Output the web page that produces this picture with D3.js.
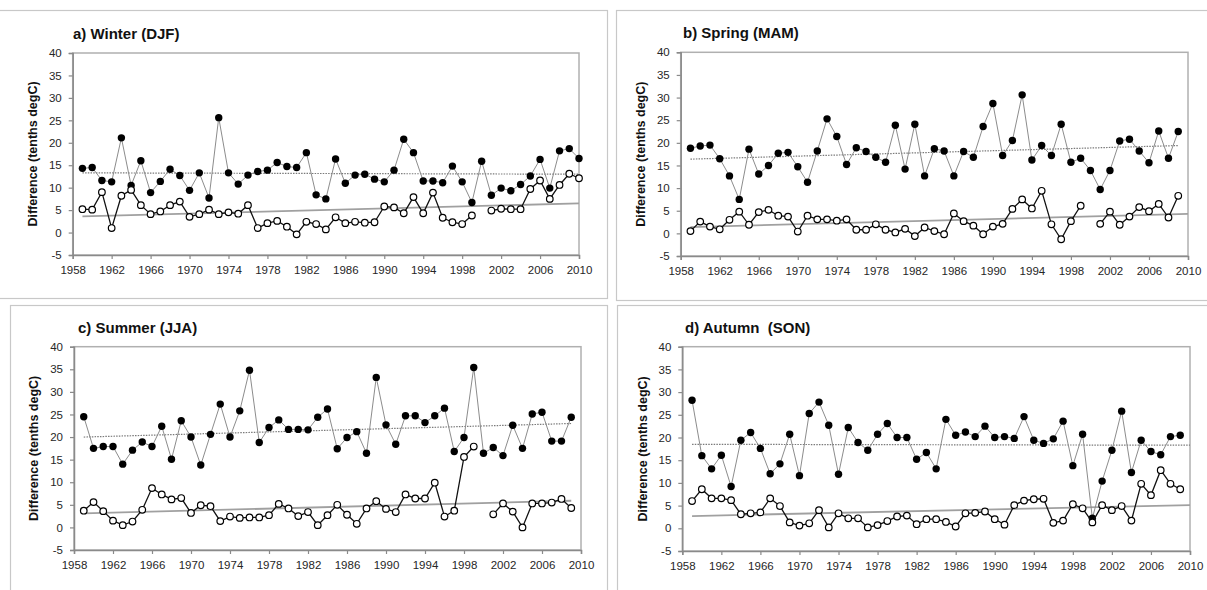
<!DOCTYPE html>
<html>
<head>
<meta charset="utf-8">
<script src="https://cdn.jsdelivr.net/npm/d3@7"></script>
<style>
  html, body { margin: 0; padding: 0; background: #fff; }
  svg { display: block; }
  text { font-family: "Liberation Sans", Arial, sans-serif; }
</style>
</head>
<body>
<svg id="chart" width="1207" height="590"></svg>
<script>
// ---------------- DATA ----------------
const panelTitles = ["a) Winter (DJF)", "b) Spring (MAM)", "c) Summer (JJA)", "d) Autumn  (SON)"];
const yAxisLabel = "Difference (tenths degC)";
const yTicks = [-5, 0, 5, 10, 15, 20, 25, 30, 35, 40];
const xTicks = [1958, 1962, 1966, 1970, 1974, 1978, 1982, 1986, 1990, 1994, 1998, 2002, 2006, 2010];

const winterYears = d3.range(1959, 2011);
const springYears = d3.range(1959, 2010);
const summerYears = d3.range(1959, 2010);
const autumnYears = d3.range(1959, 2010);

const winterFilled = [14.3,14.5,11.6,11.3,21.1,10.5,16.0,8.9,11.4,14.1,
  12.7,9.4,13.3,7.7,25.6,13.3,10.8,12.8,13.6,13.9,
  15.6,14.7,14.5,17.8,8.4,7.5,16.4,11.0,12.8,13.0,
  11.9,11.3,13.9,20.8,17.8,11.5,11.5,11.1,14.8,11.3,
  6.7,15.9,8.3,9.9,9.3,10.7,12.6,16.3,9.9,18.2,
  18.7,16.5];
const winterOpen = [5.2,5.1,9.0,1.0,8.2,9.5,6.1,4.1,4.7,6.1,
  6.9,3.5,4.1,5.1,4.1,4.5,4.2,6.1,1.0,2.1,
  2.6,1.3,-0.4,2.4,1.9,0.7,3.4,2.1,2.4,2.2,
  2.3,5.8,5.6,4.3,7.9,4.3,8.9,3.3,2.3,1.9,
  3.8,null,4.9,5.3,5.2,5.2,9.7,11.6,7.5,10.6,
  13.1,12.1];

const springFilled = [18.8,19.3,19.5,16.5,12.7,7.5,18.6,13.1,15.0,17.7,
  17.9,14.7,11.3,18.2,25.3,21.4,15.2,18.9,18.1,16.8,
  15.7,23.9,14.2,24.1,12.7,18.7,18.2,12.7,18.1,16.8,
  23.6,28.7,17.2,20.5,30.6,16.2,19.4,17.2,24.1,15.7,
  16.6,13.9,9.7,13.9,20.4,20.8,18.2,15.6,22.6,16.6,
  22.5];
const springOpen = [0.5,2.6,1.5,0.9,3.0,4.8,1.9,4.7,5.2,3.9,
  3.7,0.4,3.9,3.1,3.1,2.8,3.1,0.8,0.8,2.0,
  0.8,0.2,1.0,-0.6,1.3,0.5,-0.2,4.4,2.7,1.7,
  -0.2,1.5,2.1,5.4,7.5,5.5,9.4,2.0,-1.3,2.7,
  6.1,null,2.1,4.8,1.9,3.7,5.8,4.9,6.5,3.5,
  8.3];

const summerFilled = [24.5,17.5,17.9,17.9,14.0,17.1,18.9,17.9,22.4,15.1,
  23.6,20.0,13.8,20.6,27.3,20.0,25.8,34.8,18.8,22.1,
  23.8,21.7,21.7,21.6,24.4,26.2,17.4,19.9,21.2,16.4,
  33.2,22.7,18.4,24.7,24.7,23.2,24.7,26.4,16.8,19.9,
  35.4,16.4,17.7,15.9,22.6,17.5,25.1,25.5,19.1,19.1,
  24.4];
const summerOpen = [3.7,5.6,3.6,1.5,0.5,1.3,3.9,8.7,7.3,6.2,
  6.5,3.2,4.9,4.7,1.4,2.4,2.1,2.2,2.2,2.7,
  5.2,4.2,2.5,3.4,0.5,2.7,5.0,2.8,0.8,4.2,
  5.8,4.1,3.4,7.3,6.4,6.4,9.9,2.4,3.7,15.6,
  17.9,null,2.9,5.3,3.5,0.0,5.3,5.3,5.5,6.3,
  4.3];

const autumnFilled = [28.2,16.0,13.1,16.1,9.2,19.4,21.1,17.6,12.0,14.2,
  20.7,11.6,25.3,27.8,22.7,11.9,22.2,18.9,17.2,20.7,
  23.1,20.0,20.0,15.2,16.7,13.1,24.0,20.5,21.2,20.2,
  22.5,20.0,20.2,19.8,24.6,19.4,18.7,19.7,23.6,13.8,
  20.7,2.2,10.4,17.2,25.8,12.3,19.4,16.9,16.2,20.2,
  20.5];
const autumnOpen = [6.0,8.6,6.6,6.6,6.2,3.1,3.3,3.5,6.6,4.9,
  1.3,0.6,1.1,4.0,0.2,3.3,2.2,2.2,0.2,0.7,
  1.6,2.6,2.8,0.9,2.0,2.0,1.4,0.4,3.3,3.4,
  3.7,2.0,0.8,5.1,6.1,6.4,6.5,1.2,1.7,5.3,
  4.4,1.3,5.1,4.0,4.9,1.7,9.8,7.3,12.8,9.8,
  8.6];

// linear trend lines: [startYear, endYear] and [startValue, endValue]
const trendFilledYears = [[1959, 2010], [1959, 2009], [1959, 2009], [1959, 2010]];
const trendFilledValues = [[13.3, 13.0], [16.4, 19.4], [20.0, 23.0], [18.5, 18.3]];
const trendOpenYears = [[1959, 2010], [1959, 2010], [1959, 2009], [1959, 2010]];
const trendOpenValues = [[3.6, 6.5], [1.4, 4.3], [3.1, 5.9], [2.7, 5.1]];

// ---------------- LAYOUT ----------------
const panelYears = [winterYears, springYears, summerYears, autumnYears];
const panelFilled = [winterFilled, springFilled, summerFilled, autumnFilled];
const panelOpen = [winterOpen, springOpen, summerOpen, autumnOpen];

const plots = [
  {l: 72.7, r: 579, t: 53, b: 255, tx: 73},
  {l: 680.7, r: 1188, t: 52.3, b: 256, tx: 683},
  {l: 74, r: 581, t: 346.7, b: 550, tx: 78},
  {l: 682.3, r: 1190, t: 346.7, b: 551, tx: 685}
];
const frames = [
  {x: -2, y: 10, w: 609, h: 288},
  {x: 616, y: 10, w: 600, h: 290},
  {x: 10, y: 305, w: 597, h: 300},
  {x: 617, y: 305, w: 600, h: 300}
];

const svg = d3.select("#chart");
svg.append("rect").attr("width", 1207).attr("height", 590).attr("fill", "#fff");

frames.forEach(f => {
  svg.append("rect").attr("x", f.x + 0.5).attr("y", f.y + 0.5)
    .attr("width", f.w).attr("height", f.h)
    .attr("fill", "none").attr("stroke", "#c8c8c8").attr("stroke-width", 1.2);
});

plots.forEach((p, i) => {
  const g = svg.append("g");
  const x = d3.scaleLinear().domain([1958, 2010]).range([p.l, p.r]);
  const y = d3.scaleLinear().domain([-5, 40]).range([p.b, p.t]);

  // plot frame
  g.append("rect").attr("x", p.l).attr("y", p.t)
    .attr("width", p.r - p.l).attr("height", p.b - p.t)
    .attr("fill", "none").attr("stroke", "#b0b0b0").attr("stroke-width", 1.5);

  // axes
  const xAxis = d3.axisBottom(x).tickValues(xTicks).tickFormat(d => String(d)).tickSizeOuter(0).tickSize(4).tickPadding(7);
  const yAxis = d3.axisLeft(y).tickValues(yTicks).tickFormat(d => String(d)).tickSizeOuter(0).tickSize(4).tickPadding(7);
  const gx = g.append("g").attr("transform", `translate(0,${p.b})`).call(xAxis);
  const gy = g.append("g").attr("transform", `translate(${p.l},0)`).call(yAxis);
  [gx, gy].forEach(ax => {
    ax.select(".domain").attr("stroke", "#8a8a8a").attr("stroke-width", 1.5);
    ax.selectAll(".tick line").attr("stroke", "#8a8a8a").attr("stroke-width", 1.2);
    ax.selectAll(".tick text").attr("fill", "#262626")
      .style("font-family", '"Liberation Sans", Arial, sans-serif').style("font-size", "11.5px");
  });

  // title
  g.append("text").attr("x", p.tx).attr("y", p.t - 14)
    .attr("font-weight", "bold").attr("font-size", "15px").attr("fill", "#111")
    .attr("xml:space", "preserve").style("white-space", "pre")
    .text(panelTitles[i]);

  // y label
  g.append("text")
    .attr("transform", `translate(${p.l - 39},${(p.t + p.b) / 2}) rotate(-90)`)
    .attr("text-anchor", "middle").attr("dominant-baseline", "middle")
    .attr("font-weight", "bold").attr("font-size", "12.5px").attr("fill", "#111")
    .text(yAxisLabel);

  const yrs = panelYears[i];
  const filled = yrs.map((yr, k) => ({yr, v: panelFilled[i][k]}));
  const open = yrs.map((yr, k) => ({yr, v: panelOpen[i][k]}));
  const line = d3.line().defined(d => d.v != null).x(d => x(d.yr)).y(d => y(d.v));

  // trend lines
  const tf = trendFilledYears[i].map((yr, k) => ({yr, v: trendFilledValues[i][k]}));
  const to = trendOpenYears[i].map((yr, k) => ({yr, v: trendOpenValues[i][k]}));
  g.append("path").attr("d", line(to)).attr("fill", "none")
    .attr("stroke", "#a0a0a0").attr("stroke-width", 1.8);
  g.append("path").attr("d", line(tf)).attr("fill", "none")
    .attr("stroke", "#7a7a7a").attr("stroke-width", 1.2).attr("stroke-dasharray", "1.5,1.2");

  // filled series
  g.append("path").attr("d", line(filled)).attr("fill", "none")
    .attr("stroke", "#8c8c8c").attr("stroke-width", 1);
  g.selectAll(".f").data(filled.filter(d => d.v != null)).join("circle")
    .attr("cx", d => x(d.yr)).attr("cy", d => y(d.v)).attr("r", 3.7)
    .attr("fill", "#000");

  // open series
  g.append("path").attr("d", line(open)).attr("fill", "none")
    .attr("stroke", "#111").attr("stroke-width", 1.3);
  g.selectAll(".o").data(open.filter(d => d.v != null)).join("circle")
    .attr("cx", d => x(d.yr)).attr("cy", d => y(d.v)).attr("r", 3.3)
    .attr("fill", "#fff").attr("stroke", "#000").attr("stroke-width", 1.2);
});
</script>
</body>
</html>
